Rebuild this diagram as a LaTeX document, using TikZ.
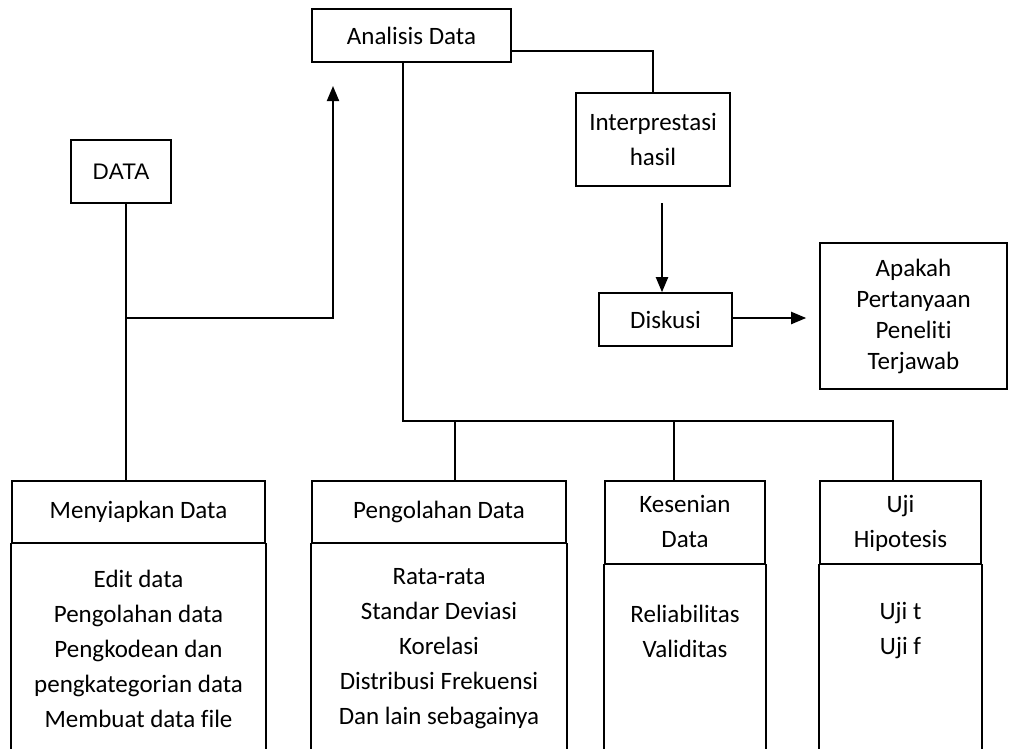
\documentclass[tikz,border=0pt]{standalone}
\usepackage{fontspec}
\setmainfont{Carlito}[Ligatures={NoCommon}]
\newfontfamily\datafont{Liberation Sans}
\usetikzlibrary{arrows.meta}

\tikzset{
  box/.style={draw, line width=1.6pt, align=center, inner sep=0pt},
  link/.style={line width=1.6pt},
  flow/.style={line width=2pt, -{Triangle[width=12pt,length=15pt]}},
  list/.style={align=center, inner sep=0pt},
}

\begin{document}
\begin{tikzpicture}[x=1pt,y=-1pt,font=\fontsize{25}{35}\selectfont]
\useasboundingbox (0,0) rectangle (1011,748);

% top part
\node[box, minimum width=199pt, minimum height=53pt] (analisis) at (411.5,35.5) {Analisis Data};
\node[box, minimum width=154pt, minimum height=93pt] (interp) at (653,139.5) {Interprestasi\\hasil};
\node[box, minimum width=100pt, minimum height=63pt, font=\datafont\fontsize{22.5}{25}\selectfont] (data) at (121,171.5) {DATA};
\node[box, minimum width=133pt, minimum height=53pt] (diskusi) at (665.5,319.5) {Diskusi};
\node[box, minimum width=187pt, minimum height=146pt, font=\fontsize{25}{31}\selectfont] (apakah) at (913.5,316) {Apakah\\Pertanyaan\\Peneliti\\Terjawab};

% bottom boxes
\node[box, minimum width=253pt, minimum height=62pt] (menyiapkan) at (138.5,512) {Menyiapkan Data};
\node[box, minimum width=254pt, minimum height=62pt] (pengolahan) at (439,512) {Pengolahan Data};
\node[box, minimum width=160pt, minimum height=83pt, text depth=3pt] (kesenian) at (685,522.5) {Kesenian\\Data};
\node[box, minimum width=161pt, minimum height=83pt, text depth=3pt] (uji) at (900.5,522.5) {Uji\\Hipotesis};

\foreach \b in {menyiapkan,pengolahan,kesenian,uji}{
  \draw[link, line cap=rect] (\b.south west) -- ++(0,230);
  \draw[link, line cap=rect] (\b.south east) -- ++(0,230);
}

\node[list] (menyiapkan-isi) at (138.5,649) {Edit data\\Pengolahan data\\Pengkodean dan\\pengkategorian data\\Membuat data file};
\node[list] (pengolahan-isi) at (439,649) {Rata-rata\\Standar Deviasi\\Korelasi\\Distribusi Frekuensi\\Dan lain sebagainya};
\node[list] (kesenian-isi) at (685,631) {Reliabilitas\\Validitas};
\node[list] (uji-isi) at (900.5,631) {Uji t\\Uji f};

% connectors
\coordinate (split) at (126,318);
\coordinate (up) at (333,86);
\draw[link] (data.south -| split) -- (split |- menyiapkan.north);
\draw[flow] (split) -| (up);

\draw[link] ([yshift=-15.5pt]analisis.east) -| (interp.north);

\coordinate (bus) at (403,421);
\coordinate (d2) at (455,421);
\coordinate (d3) at (674,421);
\coordinate (d4) at (893,421);
\draw[link] (analisis.south -| bus) -- (bus) -- (d4) -- (d4 |- uji.north);
\draw[link] (d2) -- (d2 |- pengolahan.north);
\draw[link] (d3) -- (d3 |- kesenian.north);

\coordinate (down) at (662,203);
\draw[flow] (down) -- (down |- diskusi.north);
\draw[flow] (diskusi.east |- 0,318) -- ([xshift=-13pt]apakah.west |- 0,318);
\end{tikzpicture}
\end{document}
